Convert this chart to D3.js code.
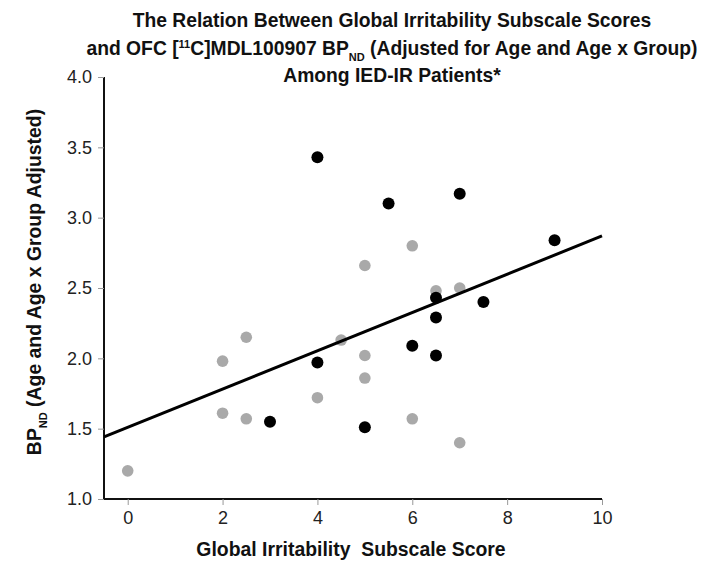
<!DOCTYPE html>
<html>
<head>
<meta charset="utf-8">
<script src="https://cdn.jsdelivr.net/npm/d3@7"></script>
<style>
  body { margin: 0; background: #fff; }
  svg { font-family: "Liberation Sans", Arial, sans-serif; }
</style>
</head>
<body>
<svg id="chart" width="708" height="564"></svg>
<script>
// scores and adjusted BPnd
var grayScores = [0, 2, 2, 2.5, 2.5, 4, 4.5, 5, 5, 5, 6, 6, 6.5, 7, 7];
var grayBP     = [1.20, 1.98, 1.61, 2.15, 1.57, 1.72, 2.13, 2.02, 1.86, 2.66, 2.80, 1.57, 2.48, 2.50, 1.40];
var blackScores = [3, 4, 4, 5, 5.5, 6, 6.5, 6.5, 6.5, 7, 7.5, 9];
var blackBP     = [1.55, 1.97, 3.43, 1.51, 3.10, 2.09, 2.43, 2.29, 2.02, 3.17, 2.40, 2.84];
var xTicks = [0, 2, 4, 6, 8, 10];
var yTicks = [1.0, 1.5, 2.0, 2.5, 3.0, 3.5, 4.0];
var fitIntercept = 1.51, fitSlope = 0.136;

var svg = d3.select("#chart");

var x = d3.scaleLinear().domain([-0.5, 10]).range([104, 602]);
var y = d3.scaleLinear().domain([1, 4]).range([499, 77]);

// title
var title = svg.append("text")
  .attr("text-anchor", "middle")
  .style("font-weight", "bold")
  .style("font-size", "19.3px")
  .attr("fill", "#111");
title.append("tspan").attr("x", 392).attr("y", 27)
  .text("The Relation Between Global Irritability Subscale Scores");
var t2 = title.append("tspan").attr("x", 392).attr("y", 55);
t2.append("tspan").text("and OFC [");
t2.append("tspan").attr("dy", -7).style("font-size", "11px").text("11");
t2.append("tspan").attr("dy", 7).text("C]MDL100907 BP");
t2.append("tspan").attr("dy", 6).style("font-size", "11px").text("ND");
t2.append("tspan").attr("dy", -6).text(" (Adjusted for Age and Age x Group)");
title.append("tspan").attr("x", 392).attr("y", 82)
  .text("Among IED-IR Patients*");

// axes
var xAxis = svg.append("g")
  .attr("transform", "translate(0,499)")
  .call(d3.axisBottom(x).tickValues(xTicks).tickSize(6).tickPadding(6).tickFormat(d3.format("d")));
var yAxis = svg.append("g")
  .attr("transform", "translate(104,0)")
  .call(d3.axisLeft(y).tickValues(yTicks).tickSize(6).tickPadding(6).tickFormat(d3.format(".1f")));

[xAxis, yAxis].forEach(function (g) {
  g.select(".domain").attr("stroke", "#111").attr("stroke-width", 2)
    .attr("d", g === xAxis ? "M104,0H602" : "M0,77V499");
  g.selectAll(".tick line").attr("stroke", "#999").attr("stroke-width", 1);
  g.selectAll(".tick text")
    .style("font-size", "18px")
    .style("font-family", "Liberation Sans, Arial, sans-serif")
    .attr("fill", "#222");
});

// axis titles
svg.append("text")
  .attr("x", 351).attr("y", 556)
  .attr("text-anchor", "middle")
  .style("font-weight", "bold").style("font-size", "19.4px")
  .style("white-space", "pre")
  .attr("fill", "#111")
  .text("Global Irritability  Subscale Score");

var yl = svg.append("text")
  .attr("transform", "translate(41,282) rotate(-90)")
  .attr("text-anchor", "middle")
  .style("font-weight", "bold").style("font-size", "19.4px")
  .attr("fill", "#111");
yl.append("tspan").text("BP");
yl.append("tspan").attr("dy", 6).style("font-size", "11px").text("ND");
yl.append("tspan").attr("dy", -6).text(" (Age and Age x Group Adjusted)");

// points
svg.append("g").selectAll("circle")
  .data(d3.zip(grayScores, grayBP))
  .enter().append("circle")
  .attr("cx", function (d) { return x(d[0]); })
  .attr("cy", function (d) { return y(d[1]); })
  .attr("r", 5.8)
  .style("fill", "#a9a9a9");

svg.append("g").selectAll("circle")
  .data(d3.zip(blackScores, blackBP))
  .enter().append("circle")
  .attr("cx", function (d) { return x(d[0]); })
  .attr("cy", function (d) { return y(d[1]); })
  .attr("r", 6)
  .style("fill", "#000");

// regression line
var fit = d3.line()
  .x(function (d) { return x(d); })
  .y(function (d) { return y(fitIntercept + fitSlope * d); });
svg.append("path")
  .datum(x.domain())
  .attr("d", fit)
  .attr("fill", "none")
  .attr("stroke", "#000")
  .attr("stroke-width", 3);
</script>
</body>
</html>
